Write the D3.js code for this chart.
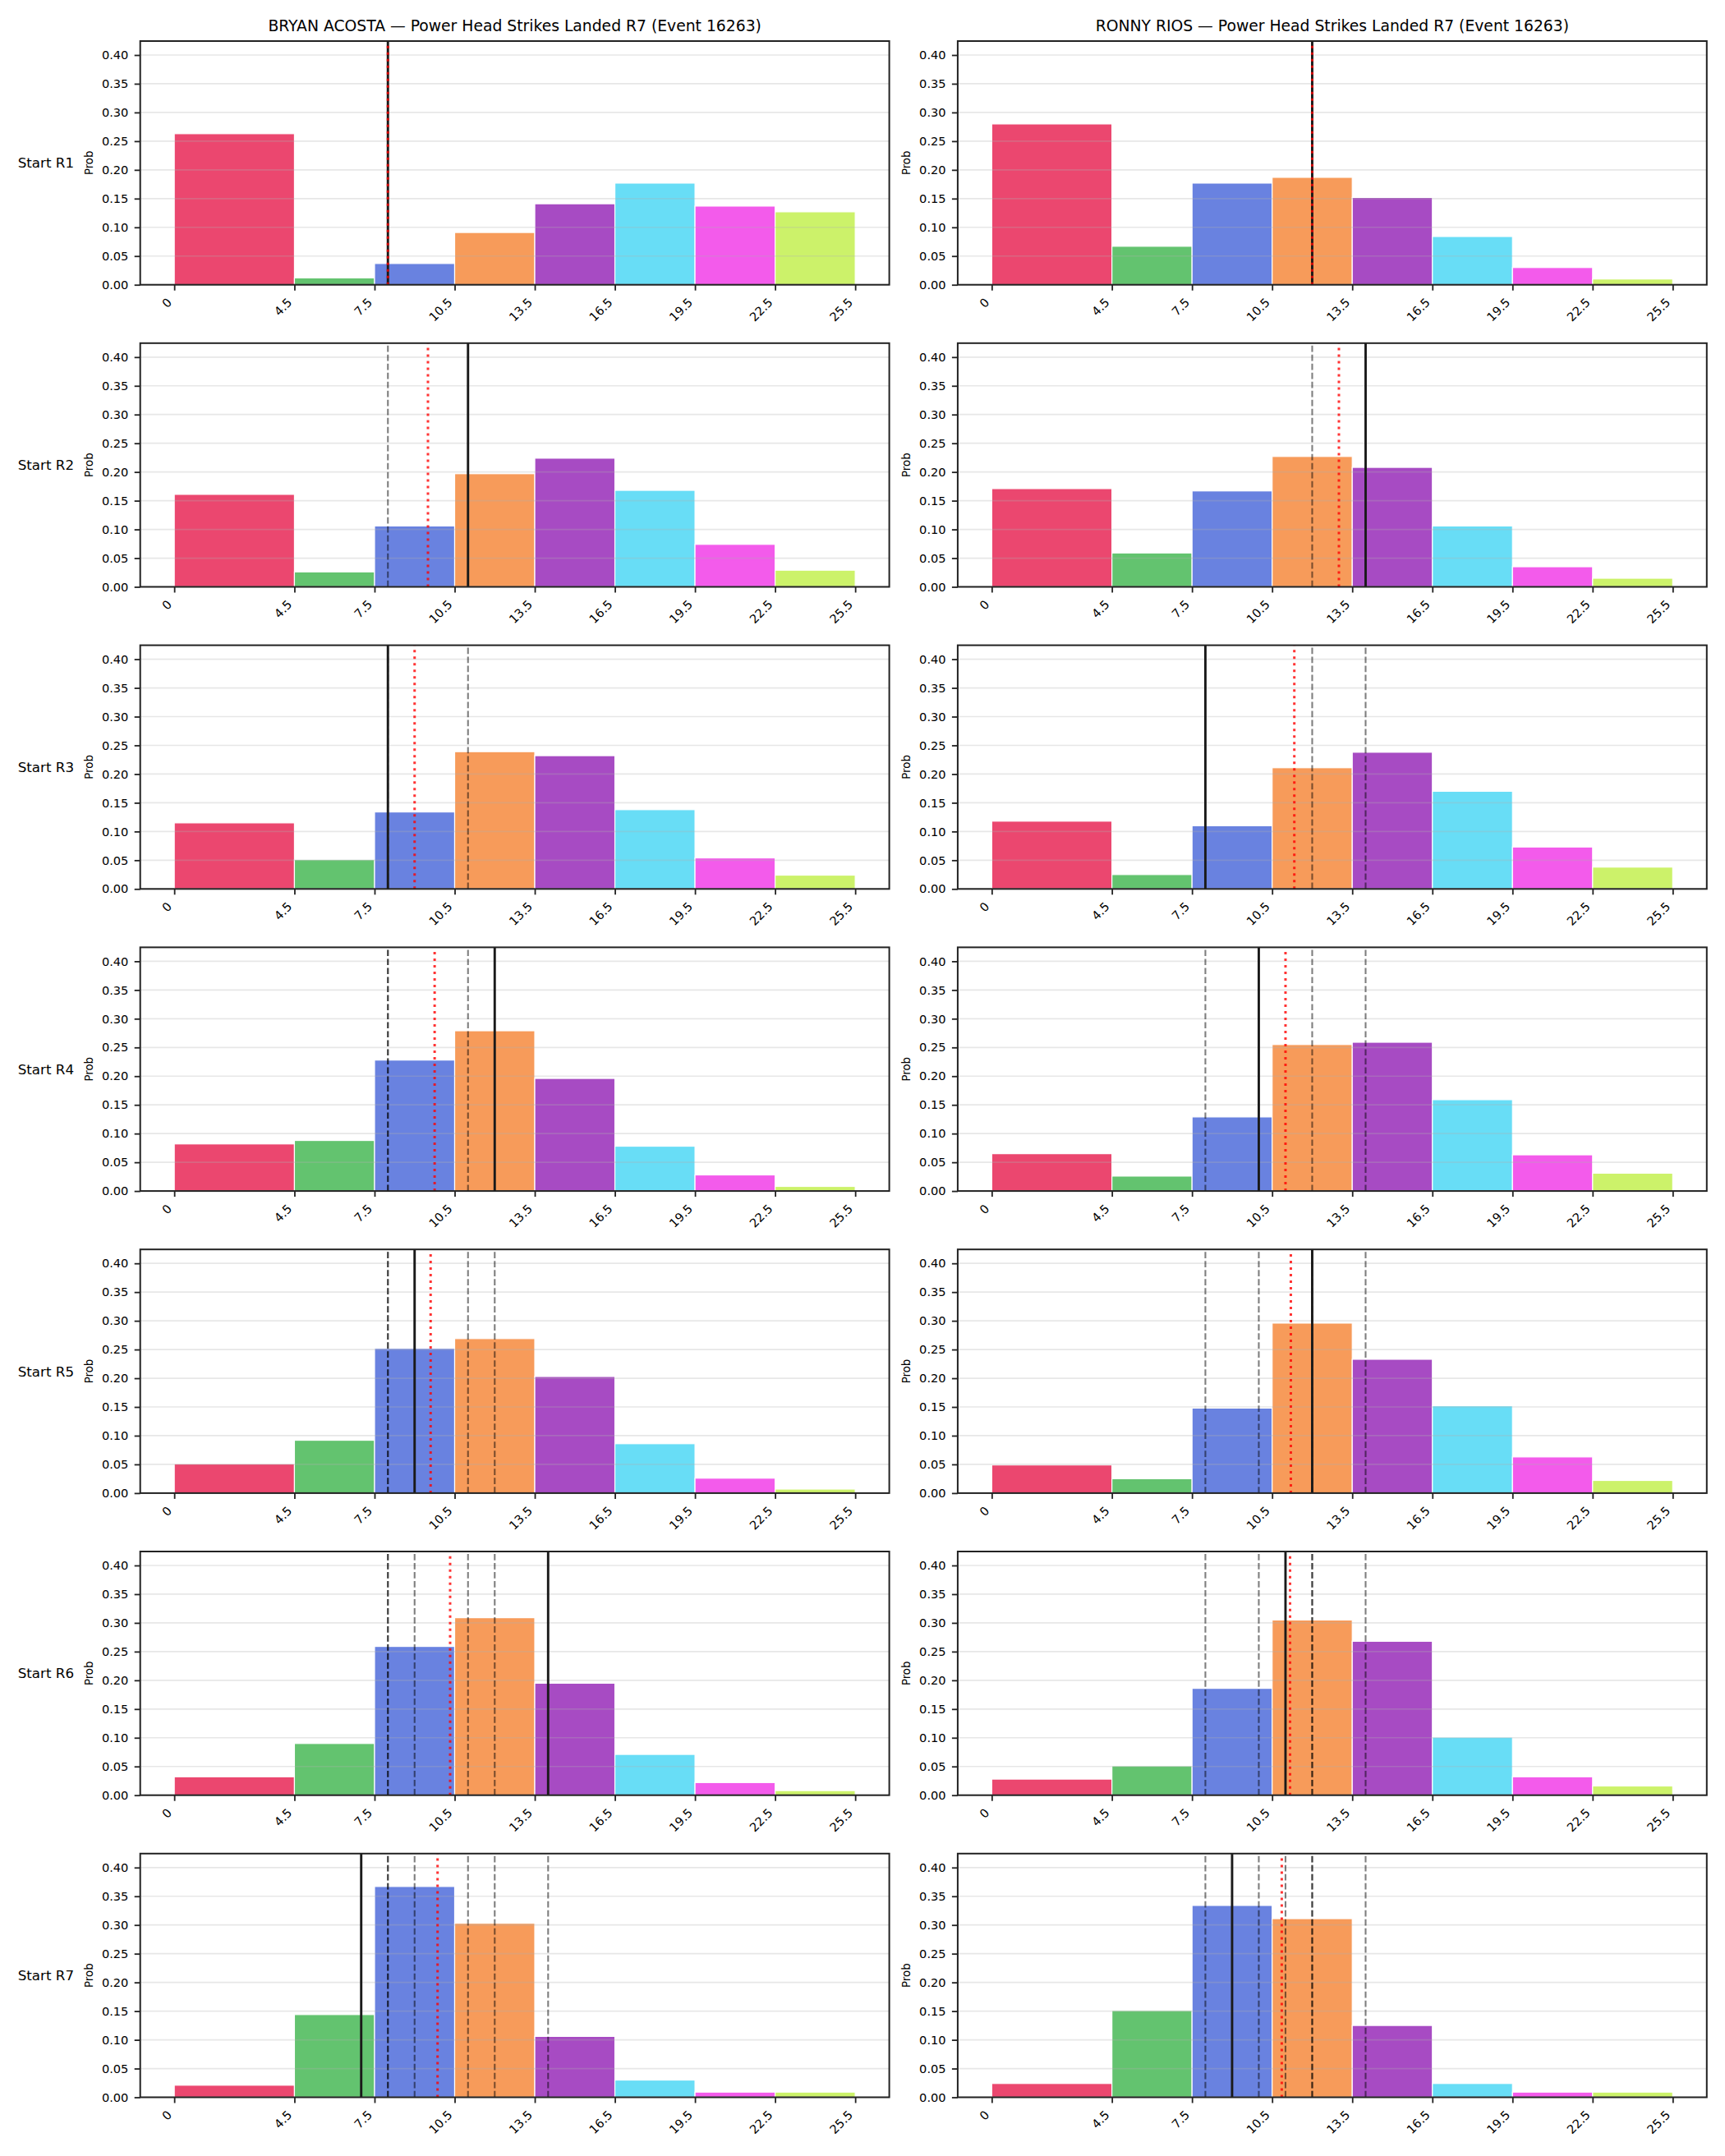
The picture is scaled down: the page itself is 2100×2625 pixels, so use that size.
<!DOCTYPE html>
<html>
<head>
<meta charset="UTF-8">
<title>Power Head Strikes Landed</title>
<style>
body { margin: 0; background: #ffffff; }
text { font-family: "DejaVu Sans", sans-serif; }
</style>
</head>
<body>
<script src="https://cdn.jsdelivr.net/npm/d3@7"></script>
<script>
// bin edges of the histogram and their labels
var binEdges = [0, 4.5, 7.5, 10.5, 13.5, 16.5, 19.5, 22.5, 25.5];
var tickLabels = ["0", "4.5", "7.5", "10.5", "13.5", "16.5", "19.5", "22.5", "25.5"];
var yTicks = [0, 0.05, 0.10, 0.15, 0.20, 0.25, 0.30, 0.35, 0.40];
var rounds = ["Start R1", "Start R2", "Start R3", "Start R4", "Start R5", "Start R6", "Start R7"];
var fighters = ["BRYAN ACOSTA", "RONNY RIOS"];
var titleSuffix = " \u2014 Power Head Strikes Landed R7 (Event 16263)";
var barColors = ["#e6194B", "#3cb44b", "#4363d8", "#f58231", "#911eb4", "#42d4f4", "#f032e6", "#bfef45"];

// probability per bin, one row per starting round
var acostaProbs = [
  [0.263, 0.012, 0.037, 0.091, 0.141, 0.177, 0.137, 0.127],
  [0.161, 0.026, 0.106, 0.197, 0.224, 0.168, 0.074, 0.029],
  [0.115, 0.051, 0.134, 0.239, 0.232, 0.138, 0.054, 0.024],
  [0.082, 0.088, 0.228, 0.279, 0.196, 0.078, 0.028, 0.008],
  [0.051, 0.092, 0.252, 0.269, 0.203, 0.086, 0.026, 0.007],
  [0.032, 0.090, 0.259, 0.309, 0.195, 0.071, 0.022, 0.008],
  [0.021, 0.144, 0.367, 0.303, 0.106, 0.030, 0.009, 0.009]
];
var riosProbs = [
  [0.280, 0.067, 0.177, 0.187, 0.152, 0.084, 0.030, 0.010],
  [0.171, 0.059, 0.167, 0.227, 0.208, 0.106, 0.035, 0.015],
  [0.118, 0.025, 0.110, 0.211, 0.238, 0.170, 0.073, 0.038],
  [0.065, 0.026, 0.129, 0.255, 0.259, 0.159, 0.063, 0.031],
  [0.049, 0.025, 0.148, 0.296, 0.233, 0.152, 0.063, 0.022],
  [0.028, 0.051, 0.186, 0.305, 0.268, 0.101, 0.032, 0.016],
  [0.024, 0.151, 0.334, 0.311, 0.125, 0.024, 0.009, 0.009]
];
// value landed in each round (solid line; earlier rounds drawn dashed)
var acostaActual = [8, 11, 8, 12, 9, 14, 7];
var riosActual = [12, 14, 8, 10, 12, 11, 9];
// running mean (red dotted line)
var acostaMean = [8, 9.5, 9.0, 9.75, 9.6, 10.33, 9.86];
var riosMean = [12, 13, 11.33, 11, 11.2, 11.17, 10.86];

var probs = [acostaProbs, riosProbs];
var actuals = [acostaActual, riosActual];
var means = [acostaMean, riosMean];

var width = 2100, height = 2625;
var colX = [170.7, 1165.9];
var axW = 911.9, axH = 296.7;
var rowTop = 50, rowPitch = 367.8;

var svg = d3.select("body").append("svg")
  .attr("width", width)
  .attr("height", height);
svg.append("rect").attr("width", width).attr("height", height).attr("fill", "#fff");

var x = d3.scaleLinear().domain([-1.275, 26.775]).range([0, axW]);
var y = d3.scaleLinear().domain([0, 0.4243]).range([axH, 0]);

for (var c = 0; c < 2; c++) {
  for (var r = 0; r < rounds.length; r++) {
    var g = svg.append("g")
      .attr("transform", "translate(" + colX[c] + "," + (rowTop + r * rowPitch) + ")");

    // bars
    g.selectAll("rect.bar")
      .data(probs[c][r])
      .enter().append("rect")
      .attr("class", "bar")
      .attr("x", function(d, i) { return x(binEdges[i]); })
      .attr("width", function(d, i) { return x(binEdges[i + 1]) - x(binEdges[i]); })
      .attr("y", function(d) { return y(d); })
      .attr("height", function(d) { return y(0) - y(d); })
      .attr("fill", function(d, i) { return barColors[i]; })
      .attr("fill-opacity", 0.8)
      .attr("stroke", "#fff")
      .attr("stroke-width", 1.2);

    // horizontal grid (drawn above the patches like matplotlib)
    g.selectAll("line.grid")
      .data(yTicks)
      .enter().append("line")
      .attr("x1", 0).attr("x2", axW)
      .attr("y1", function(d) { return y(d); })
      .attr("y2", function(d) { return y(d); })
      .attr("stroke", "#b0b0b0")
      .attr("stroke-opacity", 0.3)
      .attr("stroke-width", 1.7);

    // previous rounds
    var prev = actuals[c].slice(0, r);
    g.selectAll("line.prev")
      .data(prev)
      .enter().append("line")
      .attr("x1", function(d) { return x(d); })
      .attr("x2", function(d) { return x(d); })
      .attr("y1", axH).attr("y2", 0)
      .attr("stroke", "#000")
      .attr("stroke-opacity", 0.5)
      .attr("stroke-width", 2.1)
      .attr("stroke-dasharray", "7.7,3.3");

    // this round
    g.append("line")
      .attr("x1", x(actuals[c][r])).attr("x2", x(actuals[c][r]))
      .attr("y1", axH).attr("y2", 0)
      .attr("stroke", "#1a1a1a")
      .attr("stroke-width", 2.9);

    // running mean
    g.append("line")
      .attr("x1", x(means[c][r])).attr("x2", x(means[c][r]))
      .attr("y1", axH).attr("y2", 0)
      .attr("stroke", "red")
      .attr("stroke-opacity", 0.8)
      .attr("stroke-width", 3)
      .attr("stroke-dasharray", "3,5");

    // axes
    var yAxis = g.append("g")
      .call(d3.axisLeft(y).tickValues(yTicks).tickFormat(d3.format(".2f"))
        .tickSize(7).tickPadding(7.3).tickSizeOuter(0));
    var xAxis = g.append("g")
      .attr("transform", "translate(0," + axH + ")")
      .call(d3.axisBottom(x).tickValues(binEdges)
        .tickFormat(function(d, i) { return tickLabels[i]; })
        .tickSize(7).tickSizeOuter(0));
    [yAxis, xAxis].forEach(function(a) {
      a.select(".domain").remove();
      a.selectAll(".tick line").attr("stroke", "#222").attr("stroke-width", 1.8);
      a.selectAll(".tick text").attr("fill", "#000").style("font-size", "14.6px")
        .style("font-family", "'DejaVu Sans', sans-serif");
    });
    xAxis.selectAll(".tick text")
      .attr("y", null).attr("dy", null)
      .attr("text-anchor", "end")
      .attr("transform", "translate(-2.5,22.5) rotate(-45)");

    // spines
    g.append("rect")
      .attr("width", axW).attr("height", axH)
      .attr("fill", "none")
      .attr("stroke", "#222")
      .attr("stroke-width", 2);

    g.append("text")
      .attr("transform", "translate(-57.9," + (axH / 2) + ") rotate(-90)")
      .attr("text-anchor", "middle")
      .style("font-size", "13.3px")
      .attr("fill", "#000")
      .text("Prob");

    if (c === 0) {
      g.append("text")
        .attr("x", 90 - colX[0])
        .attr("y", axH / 2 + 6)
        .attr("text-anchor", "end")
        .style("font-size", "16.7px")
        .attr("fill", "#000")
        .text(rounds[r]);
    }
    if (r === 0) {
      g.append("text")
        .attr("x", axW / 2)
        .attr("y", -12)
        .attr("text-anchor", "middle")
        .style("font-size", "18.75px")
        .attr("fill", "#000")
        .text(fighters[c] + titleSuffix);
    }
  }
}
</script>
</body>
</html>
